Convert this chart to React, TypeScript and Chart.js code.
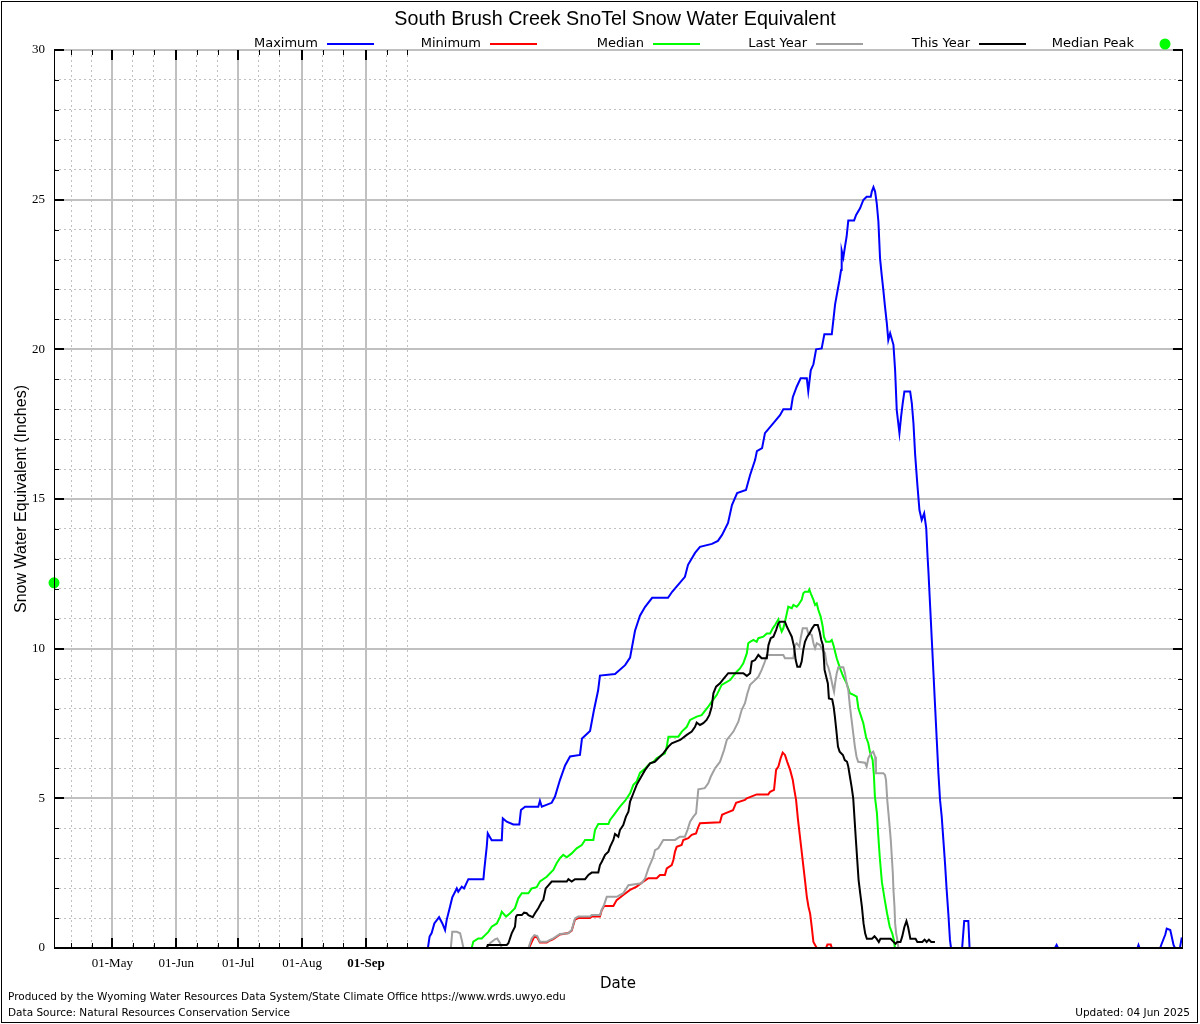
import React, { useEffect, useRef } from "react";
import { Chart, registerables } from "chart.js";

Chart.register(...registerables);

// ---- text ----
const TITLE = "South Brush Creek SnoTel Snow Water Equivalent";
const Y_TITLE = "Snow Water Equivalent (Inches)";
const X_TITLE = "Date";
const FOOTER_1 = "Produced by the Wyoming Water Resources Data System/State Climate Office https://www.wrds.uwyo.edu";
const FOOTER_2 = "Data Source: Natural Resources Conservation Service";
const UPDATED = "Updated: 04 Jun 2025";

// ---- axes (x = days from 01-Oct, start of water year) ----
const xMin = -181.3;
const xMax = 365.6;
const xTickDays = [-173, -163, -153, -143, -133, -122, -112, -102, -92, -82, -72, -61, -51, -41, -30, -20, -10];
const xMajorDays = [-153, -122, -92, -61, -30];
const xMajorLabels = ["01-May", "01-Jun", "01-Jul", "01-Aug", "01-Sep"];
const yMin = 0;
const yMax = 30;
const yTickValues = [0, 1, 2, 3, 4, 5, 6, 7, 8, 9, 10, 11, 12, 13, 14, 15, 16, 17, 18, 19, 20, 21, 22, 23, 24, 25, 26, 27, 28, 29, 30];
const yMajorTicks = [0, 5, 10, 15, 20, 25, 30];

// ---- series: [day, inches] ----
const maximum: number[][] = [
  [0, 0], [0.8, 0.38], [1.8, 0.5], [3.1, 0.82], [5.4, 1.03], [7, 0.82], [8.3, 0.6], [9.1, 0.94], [10.7, 1.38], [11.8, 1.69],
  [14, 1.99], [14.7, 1.88], [16.4, 2.05], [17.5, 1.99], [19.6, 2.3], [26.9, 2.3], [27.3, 2.6], [28.5, 3.38], [29, 3.83], [30.9, 3.6],
  [35.8, 3.6], [36.3, 4.33], [38.2, 4.22], [41.4, 4.13], [44.3, 4.13], [45.1, 4.61], [47.1, 4.72], [53.5, 4.72], [54.3, 4.92], [55.2, 4.72],
  [60, 4.85], [61.6, 5.06], [64, 5.61], [66.5, 6.1], [68.9, 6.4], [73.7, 6.45], [74.7, 7.0], [78.6, 7.25], [80.5, 7.95], [82.5, 8.6],
  [83.4, 9.1], [90.7, 9.15], [95.6, 9.45], [98, 9.7], [100.4, 10.6], [102.8, 11.1], [105.3, 11.4], [108.7, 11.7], [116.4, 11.7], [118.4, 11.9],
  [124.6, 12.4], [126.1, 12.8], [129.5, 13.2], [131.9, 13.4], [137.7, 13.5], [140.6, 13.6], [142.6, 13.8], [145.5, 14.2], [147.4, 14.8], [149.9, 15.2],
  [154.2, 15.3], [156.2, 15.8], [158.6, 16.3], [159.5, 16.6], [162, 16.7], [163.4, 17.2], [168.3, 17.6], [170.7, 17.8], [172.3, 18.0], [176, 18.0],
  [176.9, 18.4], [178.8, 18.75], [180.7, 19.03], [183.7, 19.03], [184.4, 18.6], [185.6, 19.3], [186.9, 19.5], [188.2, 20.0], [190.9, 20.03], [192.2, 20.5],
  [195.8, 20.5], [196.6, 21.0], [197.4, 21.5], [198.7, 22.0], [199.5, 22.3], [200.3, 22.65], [200.6, 23.3], [201.4, 23.07], [202.2, 23.43], [203, 23.77],
  [203.8, 24.3], [206.6, 24.3], [207.6, 24.49], [209.5, 24.71], [211.1, 24.99], [212.7, 25.1], [214.7, 25.1], [215.2, 25.27], [216, 25.42], [216.8, 25.27],
  [217.6, 24.88], [218.4, 24.27], [219.2, 23.04], [220, 22.49], [220.8, 21.98], [221.6, 21.43], [222.5, 20.87], [223.2, 20.31], [224.1, 20.54], [225.7, 20.15],
  [226.5, 19.31], [227.3, 17.97], [228.6, 17.2], [229.4, 17.75], [230.2, 18.2], [231, 18.59], [233.8, 18.59], [234.6, 18.2], [235.4, 17.53], [236.2, 16.5],
  [237.3, 15.47], [238.3, 14.63], [239.4, 14.3], [240.6, 14.52], [241.6, 14.02], [242.2, 13.13], [242.7, 12.52], [243.5, 11.4], [244.3, 10.29], [245.1, 9.18],
  [245.9, 8.06], [246.7, 6.95], [247.5, 5.84], [248.3, 4.94], [249.1, 4.39], [249.9, 3.61], [250.7, 2.83], [251.5, 1.94], [252.3, 1.16], [253.1, 0.27],
  [253.6, 0], [259, 0], [260, 0.9], [262, 0.9], [262.6, 0], [304, 0], [304.8, 0.1], [305.5, 0], [344, 0], [344.5, 0.1],
  [345, 0], [355, 0], [355.8, 0.15], [357.5, 0.45], [358.2, 0.65], [359.9, 0.6], [360.4, 0.45], [361.5, 0.1], [362.2, 0], [364.6, 0],
  [365.5, 0.35],
];

const minimum: number[][] = [
  [0, 0], [49, 0], [50.3, 0.2], [51.6, 0.38], [53, 0.35], [54.3, 0.18], [57.6, 0.18], [59.2, 0.25], [60.8, 0.3], [64, 0.45],
  [68.1, 0.5], [69.7, 0.58], [71.3, 0.95], [72.9, 1.0], [78.6, 1.0], [79.4, 1.05], [83.4, 1.05], [84.2, 1.25], [85.4, 1.4], [89.9, 1.4],
  [91.5, 1.6], [94.7, 1.77], [98, 1.94], [101.2, 2.05], [104.4, 2.22], [106.9, 2.33], [110.9, 2.33], [112.5, 2.44], [114.9, 2.44], [115.8, 2.66],
  [118.2, 2.77], [119, 2.94], [119.8, 3.22], [120.6, 3.38], [123, 3.44], [123.8, 3.61], [126.2, 3.67], [127.9, 3.78], [130, 3.83], [131.1, 4.05],
  [131.9, 4.17], [141.6, 4.2], [142.6, 4.45], [144.1, 4.5], [147.9, 4.6], [149.4, 4.85], [153.7, 4.95], [154.6, 5.0], [159.4, 5.13], [165, 5.13],
  [165.9, 5.22], [167.8, 5.28], [168.8, 5.95], [169.9, 6.06], [171, 6.34], [172, 6.53], [173.1, 6.45], [174.2, 6.22], [175.6, 5.95], [176.9, 5.61],
  [177.5, 5.34], [178.5, 4.94], [179.4, 4.3], [180.9, 3.4], [182.8, 2.27], [183.7, 1.71], [184.5, 1.38], [185.3, 1.15], [186.1, 0.7], [186.9, 0.2],
  [188.5, 0], [193, 0], [193.7, 0.12], [195.3, 0.12], [195.8, 0], [364, 0],
];

const median: number[][] = [
  [0, 0], [21.2, 0], [22, 0.21], [24.4, 0.32], [26.1, 0.32], [27.7, 0.43], [29.3, 0.54], [30.9, 0.71], [33.4, 0.82], [35, 1.05],
  [35.8, 1.21], [37.9, 1.05], [39.8, 1.16], [42.2, 1.33], [43.8, 1.66], [45.5, 1.83], [48.7, 1.83], [50.3, 1.99], [52.7, 2.03], [54.3, 2.22],
  [57.6, 2.38], [60.8, 2.61], [62.4, 2.83], [64, 3.0], [65.6, 3.11], [67.3, 3.03], [69.7, 3.16], [72.1, 3.33], [74.6, 3.44], [76.2, 3.61],
  [80.2, 3.61], [81, 3.94], [82.6, 4.14], [87.5, 4.14], [88.3, 4.28], [90.7, 4.5], [93.1, 4.72], [95.6, 4.92], [98, 5.17], [99.6, 5.45],
  [101.2, 5.56], [102.8, 5.85], [105.3, 6.0], [107.7, 6.17], [109.3, 6.22], [110.9, 6.34], [114.9, 6.5], [115.8, 6.73], [116.6, 7.06], [121.4, 7.06],
  [123.1, 7.23], [125.5, 7.39], [127.1, 7.62], [130.3, 7.73], [132.7, 7.78], [135.9, 8.06], [137.6, 8.23], [140, 8.45], [142.4, 8.79], [146.5, 8.95],
  [149.7, 9.23], [151.3, 9.34], [152.9, 9.51], [154.6, 9.84], [155.3, 10.18], [156.2, 10.23], [157.8, 10.29], [159.4, 10.23], [160.2, 10.35], [162.6, 10.4],
  [164.3, 10.51], [165.9, 10.51], [167.2, 10.68], [168.3, 10.79], [169.9, 10.98], [170.7, 10.74], [171.5, 10.57], [172.3, 10.68], [173.1, 10.9], [174, 11.18],
  [174.7, 11.4], [176.4, 11.35], [177.2, 11.46], [178.8, 11.4], [179.6, 11.46], [181.2, 11.63], [182, 11.85], [182.8, 11.9], [184.4, 11.9], [184.9, 11.98],
  [185.6, 11.85], [186.9, 11.63], [187.7, 11.46], [188.5, 11.51], [189.3, 11.29], [190.4, 11.07], [191.4, 10.74], [192, 10.4], [193, 10.23], [194.9, 10.23],
  [195.8, 10.29], [196.6, 10.12], [197.4, 9.9], [198.2, 9.68], [199, 9.51], [200.1, 9.29], [201.4, 9.06], [203, 8.84], [204.6, 8.51], [206.6, 8.45],
  [207.9, 8.4], [208.7, 8.01], [209.8, 7.78], [211.1, 7.51], [212.4, 7.05], [213.5, 6.84], [214.3, 6.55], [215.6, 6.28], [216.2, 5.8], [216.7, 5.06],
  [217.7, 4.5], [218.3, 3.8], [219.1, 3.0], [220.1, 2.2], [221.5, 1.6], [222.6, 1.16], [223.9, 0.71], [225.1, 0.49], [225.9, 0.27], [226.4, 0],
  [364, 0],
];

const lastYear: number[][] = [
  [0, 0], [11.1, 0], [11.8, 0.54], [14, 0.54], [15.6, 0.49], [16.4, 0.27], [17.2, 0], [28.5, 0], [30.1, 0.16], [32.5, 0.29],
  [33.6, 0.32], [35, 0.16], [35.8, 0], [48.7, 0], [50.3, 0.32], [51.6, 0.43], [53, 0.4], [54.3, 0.21], [57.6, 0.21], [59.2, 0.27],
  [60.8, 0.32], [64, 0.47], [68.1, 0.49], [69.7, 0.6], [71.3, 0.99], [72.9, 1.05], [78.6, 1.05], [79.4, 1.1], [83.4, 1.1], [84.2, 1.27],
  [85.4, 1.44], [86.7, 1.71], [91.5, 1.71], [93, 1.77], [94.7, 1.83], [97.2, 2.1], [103.6, 2.16], [105.3, 2.33], [106.9, 2.66], [109.3, 3.05],
  [110.1, 3.27], [111.7, 3.33], [114.1, 3.61], [119.8, 3.61], [122.2, 3.72], [124.6, 3.72], [125.8, 3.94], [127.1, 4.22], [128.7, 4.39], [130, 4.5],
  [131.1, 5.3], [134.2, 5.34], [135.9, 5.5], [137.1, 5.72], [139.2, 6.0], [141.6, 6.22], [143.6, 6.62], [144.9, 6.95], [148.1, 7.23], [150.5, 7.56],
  [152.1, 7.95], [153.7, 8.18], [154.9, 8.51], [156.2, 8.79], [158.6, 8.95], [160.2, 9.06], [161.8, 9.29], [163.4, 9.57], [164.3, 9.79], [172.3, 9.79],
  [173.1, 9.68], [177.2, 9.68], [178, 10.12], [178.8, 10.18], [180.1, 10.07], [180.7, 10.35], [181.7, 10.68], [183.7, 10.68], [184.4, 10.51], [186.1, 10.46],
  [186.9, 10.18], [187.7, 10.01], [188.5, 10.18], [190.1, 10.12], [190.9, 10.01], [192.5, 9.85], [193.3, 9.51], [194.1, 9.38], [194.9, 9.18], [196.3, 8.73],
  [196.9, 8.56], [197.4, 8.84], [198.2, 9.18], [199, 9.38], [201.4, 9.38], [202.2, 9.18], [203, 8.84], [203.8, 8.62], [204.6, 8.06], [205.4, 7.62],
  [206.2, 7.17], [207, 6.73], [207.8, 6.39], [208.6, 6.22], [211.9, 6.19], [212.7, 6.06], [213.5, 6.34], [214.7, 6.5], [215.9, 6.56], [216.8, 6.39],
  [217.2, 5.84], [220.8, 5.84], [221.6, 5.78], [222.1, 5.61], [222.7, 4.94], [223.7, 4.17], [224.4, 3.61], [224.9, 3.05], [225.4, 2.49], [225.7, 1.94],
  [226.2, 1.38], [226.5, 0.83], [227, 0.49], [227.6, 0.27], [228.1, 0], [364, 0],
];

const thisYear: number[][] = [
  [0, 0], [28.5, 0], [29, 0.1], [38.2, 0.1], [39, 0.16], [40.6, 0.49], [42.2, 0.71], [42.7, 1.05], [43.3, 1.1], [45.5, 1.1],
  [46.6, 1.18], [47.9, 1.16], [48.7, 1.1], [50.8, 1.03], [51.9, 1.16], [53.5, 1.33], [55.2, 1.55], [55.9, 1.6], [57.1, 1.99], [58.1, 2.07],
  [60, 2.22], [67.3, 2.22], [68.1, 2.3], [69.7, 2.22], [71.3, 2.3], [76.2, 2.3], [77.8, 2.44], [79.4, 2.52], [82.6, 2.52], [83.4, 2.77],
  [84.3, 2.88], [85.9, 3.11], [87.5, 3.22], [88.3, 3.38], [89.9, 3.61], [90.7, 3.81], [92.3, 3.72], [93.1, 3.94], [94.7, 4.11], [96, 4.39],
  [97.2, 4.55], [98, 4.89], [99.6, 5.17], [101.2, 5.45], [102.5, 5.61], [105.3, 5.95], [107.7, 6.17], [110, 6.22], [111.7, 6.34], [114.1, 6.5],
  [116.6, 6.73], [118.2, 6.84], [122.3, 6.95], [125.5, 7.12], [127.9, 7.23], [129.5, 7.39], [130.3, 7.53], [131.9, 7.45], [133.5, 7.51], [135.1, 7.62],
  [136.4, 7.78], [137.6, 8.06], [138.4, 8.51], [139.7, 8.73], [141.6, 8.84], [143.2, 8.98], [145.6, 9.18], [152.9, 9.18], [154.6, 9.09], [156.2, 9.18],
  [157, 9.57], [158.6, 9.62], [160.2, 9.79], [161.8, 9.68], [164.3, 9.68], [165.1, 10.12], [166.2, 10.35], [167.5, 10.4], [168.8, 10.62], [169.9, 10.85],
  [170.7, 10.9], [173.1, 10.9], [174, 10.74], [175.2, 10.57], [176.4, 10.4], [177.5, 10.07], [178.3, 9.62], [179.1, 9.4], [180.4, 9.4], [181.2, 9.57],
  [182, 9.96], [182.8, 10.23], [183.9, 10.4], [185, 10.51], [186.3, 10.68], [187.4, 10.79], [189, 10.79], [189.9, 10.57], [190.7, 10.29], [191.5, 10.12],
  [191.8, 9.85], [192.3, 9.29], [193.1, 9.06], [193.9, 8.84], [194.4, 8.34], [196, 8.31], [196.7, 8.06], [197.3, 7.73], [198, 7.28], [198.8, 6.73],
  [199.6, 6.56], [201.2, 6.45], [202.1, 6.28], [203.2, 6.22], [203.8, 6.06], [204.6, 5.72], [205.4, 5.39], [206.2, 5.0], [207.5, 3.6], [208.8, 2.27],
  [209.6, 1.82], [210.4, 1.38], [211.2, 0.82], [212, 0.48], [212.8, 0.31], [215.3, 0.31], [216.5, 0.39], [217.5, 0.31], [218.6, 0.2], [219.4, 0.31],
  [224.3, 0.31], [225.5, 0.22], [226.7, 0.14], [227.5, 0.2], [229.1, 0.2], [229.9, 0.37], [231, 0.7], [232, 0.9], [232.8, 0.7], [233.9, 0.31],
  [236.4, 0.31], [237.3, 0.2], [239.7, 0.2], [240.8, 0.28], [241.8, 0.2], [242.9, 0.28], [244, 0.2], [245.8, 0.2],
];

const medianPeakValue = 12.2;
const medianPeakDay = xMin;

const seriesNames = ["Maximum", "Minimum", "Median", "Last Year", "This Year"];
const seriesColors = ["#0000ff", "#ff0000", "#00ff00", "#a0a0a0", "#000000"];
const seriesData = [maximum, minimum, median, lastYear, thisYear];
const peakName = "Median Peak";
const peakColor = "#00ff00";

const GRID_COLOR = "#c0c0c0";

const isMajorX = (v: number) => xMajorDays.includes(v);
const isMajorY = (v: number) => yMajorTicks.includes(v);

const framePlugin = {
  id: "frame",
  afterDatasetsDraw(chart: any) {
    const { ctx, chartArea: a, scales } = chart;
    const xs = scales.x;
    const ys = scales.y;
    ctx.save();
    ctx.strokeStyle = "#000";
    ctx.lineWidth = 1;
    ctx.beginPath();
    ctx.moveTo(a.left + 0.5, a.top);
    ctx.lineTo(a.left + 0.5, a.bottom);
    ctx.moveTo(a.right + 0.5, a.top);
    ctx.lineTo(a.right + 0.5, a.bottom);
    ctx.stroke();
    ctx.lineWidth = 2;
    ctx.beginPath();
    ctx.moveTo(a.left, a.bottom);
    ctx.lineTo(a.right + 1, a.bottom);
    ctx.stroke();
    xTickDays.forEach((d) => {
      const major = isMajorX(d);
      const px = major ? Math.round(xs.getPixelForValue(d)) : Math.round(xs.getPixelForValue(d)) + 0.5;
      const len = major ? 10 : 5;
      ctx.lineWidth = major ? 2 : 1;
      ctx.beginPath();
      ctx.moveTo(px, a.bottom);
      ctx.lineTo(px, a.bottom - len);
      ctx.moveTo(px, a.top);
      ctx.lineTo(px, a.top + len);
      ctx.stroke();
    });
    yTickValues.forEach((v) => {
      const major = isMajorY(v);
      const py = major ? Math.round(ys.getPixelForValue(v)) : Math.round(ys.getPixelForValue(v)) + 0.5;
      const len = major ? 10 : 5;
      ctx.lineWidth = major ? 2 : 1;
      ctx.beginPath();
      ctx.moveTo(a.left, py);
      ctx.lineTo(a.left + len, py);
      ctx.moveTo(a.right + 1, py);
      ctx.lineTo(a.right + 1 - len, py);
      ctx.stroke();
    });
    ctx.restore();
  },
};

const textPlugin = {
  id: "texts",
  afterDraw(chart: any) {
    const { ctx, chartArea: a, width, height } = chart;
    ctx.save();
    ctx.fillStyle = "#000";
    ctx.font = '19.7px "Liberation Sans"';
    ctx.textAlign = "center";
    ctx.textBaseline = "middle";
    ctx.fillText(TITLE, (a.left + a.right) / 2 - 3, 20);
    ctx.font = '13px "DejaVu Sans"';
    ctx.textAlign = "right";
    const ly = 44;
    seriesNames.forEach((name, i) => {
      const lineEnd = 374 + 163 * i;
      const lineStart = lineEnd - 47;
      ctx.fillStyle = "#000";
      ctx.fillText(name, lineStart - 9, ly);
      ctx.strokeStyle = seriesColors[i];
      ctx.lineWidth = 2;
      ctx.beginPath();
      ctx.moveTo(lineStart, ly);
      ctx.lineTo(lineEnd, ly);
      ctx.stroke();
    });
    ctx.fillStyle = "#000";
    ctx.fillText(peakName, 1134, ly);
    ctx.fillStyle = peakColor;
    ctx.beginPath();
    ctx.arc(1165, ly, 5.5, 0, Math.PI * 2);
    ctx.fill();
    ctx.fillStyle = "#000";
    ctx.font = '10.5px "DejaVu Sans"';
    ctx.textAlign = "left";
    ctx.fillText(FOOTER_1, 8, 997);
    ctx.fillText(FOOTER_2, 8, 1013);
    ctx.textAlign = "right";
    ctx.fillText(UPDATED, 1190, 1013);
    ctx.strokeStyle = "#000";
    ctx.lineWidth = 1;
    ctx.strokeRect(1.5, 1.5, width - 4, height - 3);
    ctx.restore();
  },
};

export default function App() {
  const ref = useRef<HTMLCanvasElement>(null);
  useEffect(() => {
    document.body.style.margin = "0";
    document.body.style.overflow = "hidden";
    const canvas = ref.current!;
    const toPts = (arr: number[][]) => arr.map(([x, y]) => ({ x, y }));
    const datasets: any[] = seriesData.map((d, i) => ({
      type: "line",
      label: seriesNames[i],
      data: toPts(d),
      borderColor: seriesColors[i],
      backgroundColor: seriesColors[i],
      borderWidth: 2,
      pointRadius: 0,
      tension: 0,
      fill: false,
      order: seriesData.length - i,
    }));
    datasets.push({
      type: "line",
      label: peakName,
      data: [{ x: medianPeakDay, y: medianPeakValue }],
      showLine: false,
      pointRadius: 5.5,
      pointBackgroundColor: peakColor,
      pointBorderWidth: 0,
      pointBorderColor: peakColor,
      clip: false,
      order: 0,
    });

    const chart = new Chart(canvas, {
      type: "line",
      data: { datasets },
      options: {
        responsive: false,
        animation: false,
        devicePixelRatio: 1,
        events: [],
        layout: { padding: { left: 0, right: 18, top: 50, bottom: 0 } },
        plugins: {
          legend: { display: false },
          title: { display: false },
          tooltip: { enabled: false },
        },
        scales: {
          x: {
            type: "linear",
            min: xMin,
            max: xMax,
            afterBuildTicks: (s: any) => {
              s.ticks = xTickDays.map((v) => ({ value: v }));
            },
            afterFit: (s: any) => {
              s.height = 76;
            },
            ticks: {
              autoSkip: false,
              maxRotation: 0,
              minRotation: 0,
              padding: 8,
              color: "#000",
              font: (c: any) => ({
                family: "Liberation Serif",
                size: 13,
                weight: c.tick && c.tick.value === -30 ? "bold" : "normal",
              }),
              callback: (v: any) => {
                const i = xMajorDays.indexOf(Number(v));
                return i >= 0 ? xMajorLabels[i] : "";
              },
            },
            grid: {
              drawTicks: false,
              color: GRID_COLOR,
              lineWidth: (c: any) => (c.tick && isMajorX(c.tick.value) ? 2 : 1),
            },
            border: {
              display: false,
              dash: (c: any) => (c.tick && !isMajorX(c.tick.value) ? [2, 3] : []),
            },
            title: {
              display: true,
              text: X_TITLE,
              color: "#000",
              font: { family: "DejaVu Sans", size: 15 },
              padding: { top: 0, bottom: 31 },
            },
          },
          y: {
            type: "linear",
            min: yMin,
            max: yMax,
            afterBuildTicks: (s: any) => {
              s.ticks = yTickValues.map((v) => ({ value: v }));
            },
            afterFit: (s: any) => {
              s.width = 54;
            },
            ticks: {
              autoSkip: false,
              padding: 9,
              color: "#000",
              font: { family: "Liberation Serif", size: 13 },
              callback: (v: any) => (isMajorY(Number(v)) ? String(v) : ""),
            },
            grid: {
              drawTicks: false,
              color: GRID_COLOR,
              lineWidth: (c: any) => (c.tick && isMajorY(c.tick.value) ? 2 : 1),
            },
            border: {
              display: false,
              dash: (c: any) => (c.tick && !isMajorY(c.tick.value) ? [2, 3] : []),
            },
            title: {
              display: true,
              text: Y_TITLE,
              color: "#000",
              font: { family: "Liberation Sans", size: 16 },
              padding: { top: 12, bottom: 0 },
            },
          },
        },
      } as any,
      plugins: [framePlugin, textPlugin],
    } as any);
    return () => chart.destroy();
  }, []);
  return (
    <canvas
      ref={ref}
      width={1200}
      height={1024}
      style={{ display: "block", width: "1200px", height: "1024px", background: "#fff" }}
    />
  );
}
